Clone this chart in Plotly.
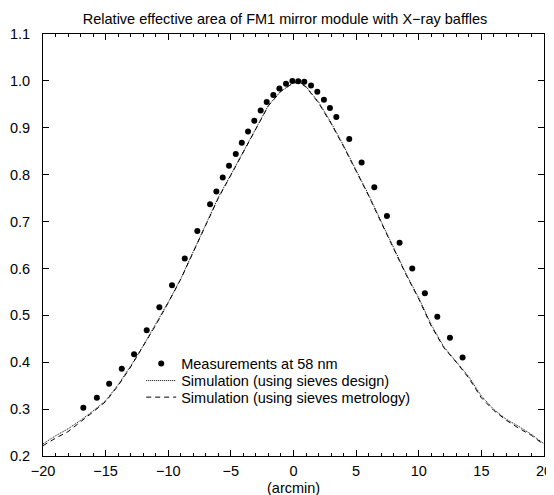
import plotly.graph_objects as go

# Measurements at 58 nm
meas_x = [-16.78, -15.70, -14.72, -13.71, -12.73, -11.72, -10.71, -9.70, -8.68, -7.68,
          -6.66, -6.16, -5.65, -5.15, -4.61, -4.13, -3.63, -3.13, -2.62, -2.14,
          -1.61, -1.13, -0.60, -0.09, 0.38, 0.86, 1.40, 1.90, 2.43, 2.91,
          3.42, 4.45, 5.44, 6.45, 7.46, 8.47, 9.48, 10.49, 11.48, 12.49, 13.50]
meas_y = [0.303, 0.324, 0.354, 0.386, 0.417, 0.468, 0.517, 0.564, 0.621, 0.680,
          0.737, 0.764, 0.794, 0.819, 0.844, 0.868, 0.892, 0.915, 0.937, 0.955,
          0.970, 0.984, 0.994, 1.000, 0.999, 0.998, 0.990, 0.977, 0.960, 0.942,
          0.923, 0.876, 0.826, 0.773, 0.712, 0.655, 0.600, 0.547, 0.497, 0.452, 0.410]

# Simulations
sim_x = [-20, -19, -18, -17, -16, -15, -14, -13, -12, -11, -10, -9, -8, -7, -6, -5, -4, -3,
         -2, -1, 0, 0.5, 1, 2, 3, 4, 5, 6, 7, 8, 9, 10, 11, 12, 13, 14, 15, 16, 17, 18, 19, 20]
design_y = [0.226, 0.243, 0.258, 0.276, 0.296, 0.318, 0.352, 0.392, 0.435, 0.481, 0.528,
            0.578, 0.637, 0.694, 0.752, 0.800, 0.850, 0.900, 0.948, 0.978, 0.996, 0.997,
            0.988, 0.955, 0.911, 0.862, 0.810, 0.757, 0.700, 0.645, 0.588, 0.537, 0.480,
            0.433, 0.402, 0.369, 0.328, 0.299, 0.278, 0.263, 0.246, 0.226]
metro_y = [0.222, 0.238, 0.252, 0.272, 0.294, 0.316, 0.350, 0.390, 0.433, 0.479, 0.527,
           0.577, 0.635, 0.693, 0.750, 0.799, 0.848, 0.899, 0.947, 0.978, 0.996, 0.996,
           0.987, 0.953, 0.909, 0.860, 0.808, 0.755, 0.698, 0.643, 0.586, 0.535, 0.477,
           0.431, 0.400, 0.366, 0.324, 0.297, 0.276, 0.259, 0.244, 0.224]

FONT = "Liberation Sans, Arial, sans-serif"
FS = 14.5

fig = go.Figure()
fig.add_trace(go.Scatter(x=meas_x, y=meas_y, mode="markers", name="Measurements at 58 nm",
                         marker=dict(color="black", size=6), legend="legend"))
fig.add_trace(go.Scatter(x=sim_x, y=design_y, mode="lines",
                         name="Simulation (using sieves design)",
                         line=dict(color="black", width=1, dash="1px,1px"), legend="legend2"))
fig.add_trace(go.Scatter(x=sim_x, y=metro_y, mode="lines",
                         name="Simulation (using sieves metrology)",
                         line=dict(color="black", width=1, dash="5px,4px"), legend="legend3"))

axis_common = dict(showgrid=False, zeroline=False, showline=True, linecolor="black",
                   linewidth=1, mirror="ticks", ticks="inside", ticklen=6, tickwidth=1,
                   tickcolor="black", automargin=False,
                   tickfont=dict(family=FONT, size=FS, color="black"))

fig.update_xaxes(range=[-20, 20], dtick=5, tick0=0, ticklabelstandoff=2,
                 minor=dict(dtick=1, ticks="inside", ticklen=3, tickcolor="black", showgrid=False),
                 **axis_common)
fig.update_yaxes(range=[0.2, 1.1], dtick=0.1, tick0=0.2, tickformat=".1f",
                 ticklabelstandoff=9, **axis_common)

leg_common = dict(xanchor="left", yanchor="middle", bgcolor="rgba(0,0,0,0)",
                  font=dict(family=FONT, size=FS, color="black"), itemwidth=30)

fig.update_layout(
    width=554, height=495,
    margin=dict(l=35, r=18, t=26, b=47, autoexpand=False),
    paper_bgcolor="white", plot_bgcolor="white",
    title=dict(text="Relative effective area of FM1 mirror module with X\u2212ray baffles",
               x=0.5, xanchor="center", y=0.978, yanchor="middle", xref="container",
               yref="container", font=dict(family=FONT, size=FS, color="black")),
    legend=dict(x=0.196, y=0.2188, **leg_common),
    legend2=dict(x=0.196, y=0.1785, **leg_common),
    legend3=dict(x=0.196, y=0.1393, **leg_common),
    showlegend=True,
    annotations=[dict(text="(arcmin)", x=0.5, y=-0.0766, xref="paper", yref="paper",
                      xanchor="center", yanchor="middle", showarrow=False,
                      font=dict(family=FONT, size=FS, color="black"))],
)

fig.write_html("out.html")
